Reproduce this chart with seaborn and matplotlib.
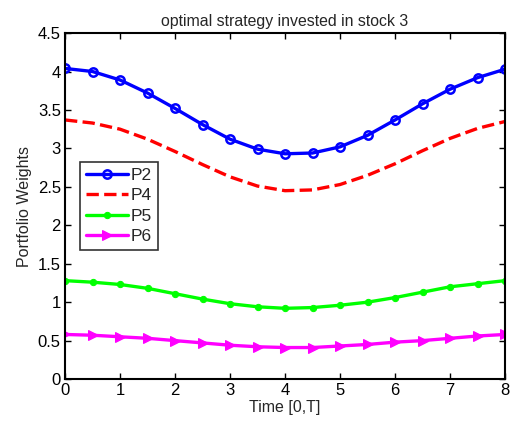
import matplotlib
matplotlib.use("Agg")
import matplotlib.pyplot as plt
import seaborn as sns
import numpy as np
import pandas as pd

time = [0, 0.5, 1, 1.5, 2, 2.5, 3, 3.5, 4, 4.5, 5, 5.5, 6, 6.5, 7, 7.5, 8]
p2 = [4.04, 4.00, 3.89, 3.72, 3.52, 3.31, 3.12, 2.99, 2.93, 2.94, 3.02, 3.17, 3.37, 3.58, 3.77, 3.92, 4.03]
p4 = [3.37, 3.33, 3.25, 3.12, 2.96, 2.79, 2.63, 2.51, 2.45, 2.46, 2.53, 2.65, 2.80, 2.97, 3.13, 3.26, 3.35]
p5 = [1.28, 1.26, 1.23, 1.18, 1.11, 1.04, 0.98, 0.94, 0.92, 0.93, 0.96, 1.00, 1.06, 1.13, 1.20, 1.24, 1.28]
p6 = [0.58, 0.57, 0.55, 0.53, 0.50, 0.47, 0.44, 0.42, 0.41, 0.41, 0.43, 0.45, 0.48, 0.50, 0.53, 0.56, 0.58]
series_names = ["P2", "P4", "P5", "P6"]
x_ticks = [0, 1, 2, 3, 4, 5, 6, 7, 8]
y_ticks = [0, 0.5, 1, 1.5, 2, 2.5, 3, 3.5, 4, 4.5]

sns.set_style("white")
plt.rcParams['font.family'] = ['Liberation Sans', 'DejaVu Sans']

fig = plt.figure(figsize=(5.18, 4.24), dpi=100)
ax = fig.add_axes([0.1255, 0.106, 0.8495, 0.816])

styles = {
    "P2": dict(color=(0, 0, 1), linestyle='-', marker='o', markersize=6, markerfacecolor='none',
               markeredgecolor=(0, 0, 1), markeredgewidth=1.8, linewidth=2.4),
    "P4": dict(color=(1, 0, 0), linestyle='--', marker=None, linewidth=2.4, dashes=(3.5, 2.2)),
    "P5": dict(color=(0, 1, 0), linestyle='-', marker='o', markersize=4.5, markerfacecolor=(0, 1, 0),
               markeredgecolor=(0, 1, 0), linewidth=2.4),
    "P6": dict(color=(1, 0, 1), linestyle='-', marker='>', markersize=7.5, markerfacecolor=(1, 0, 1),
               markeredgecolor=(1, 0, 1), linewidth=2.4),
}
data = {"P2": p2, "P4": p4, "P5": p5, "P6": p6}
for name in series_names:
    df = pd.DataFrame({"Time": time, "Weight": data[name]})
    sns.lineplot(data=df, x="Time", y="Weight", ax=ax, label=name, **styles[name])

ax.set_xlim(0, 8)
ax.set_ylim(0, 4.5)
ax.set_xticks(x_ticks)
ax.set_xticklabels([str(t) for t in x_ticks])
ax.set_yticks(y_ticks)
ax.set_yticklabels([f"{t:g}" for t in y_ticks])
ax.tick_params(direction='in', length=4, width=1, top=True, right=True, bottom=True, left=True,
               labelsize=12, pad=3, colors='black')
for s in ax.spines.values():
    s.set_linewidth(1.5)
    s.set_color('black')
ax.set_xlabel("Time [0,T]", fontsize=11.5, labelpad=1)
ax.set_ylabel("Portfolio Weights", fontsize=11.5, labelpad=4)
ax.set_title("optimal strategy invested in stock 3", fontsize=11.4, pad=5)

leg = ax.legend(loc='upper left', bbox_to_anchor=(0.034, 0.628), fontsize=12.5, frameon=True,
                fancybox=False, edgecolor='black', handlelength=2.4, borderpad=0.35,
                labelspacing=0.3, handletextpad=0.18, borderaxespad=0, numpoints=1)
leg.get_frame().set_linewidth(1.2)

fig.savefig("out.png", dpi=100)
